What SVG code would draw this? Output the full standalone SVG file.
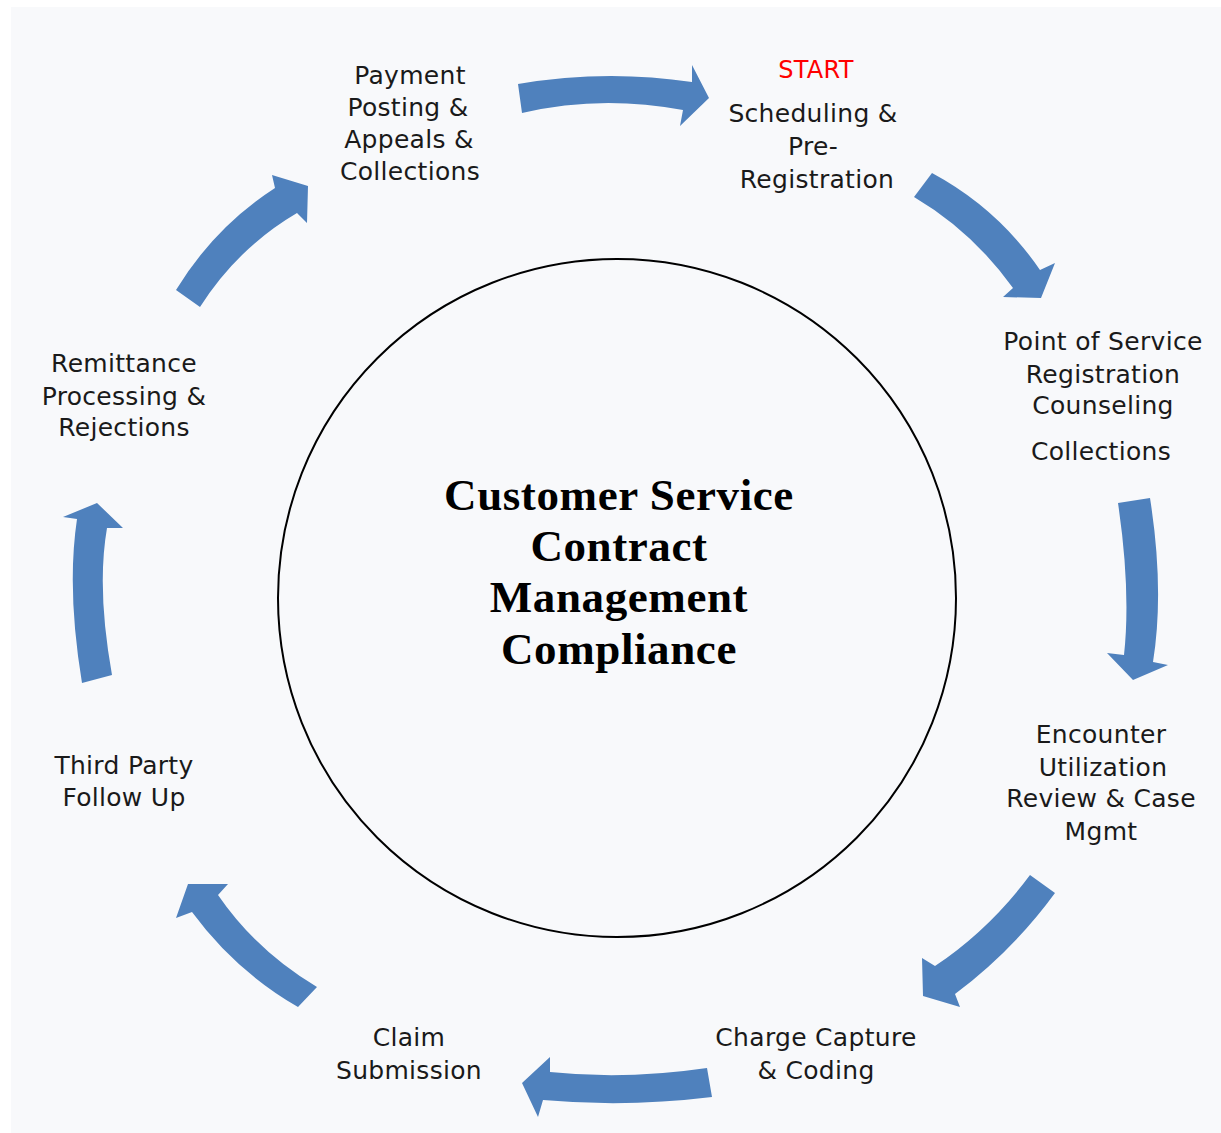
<svg xmlns="http://www.w3.org/2000/svg" width="1221" height="1133" viewBox="0 0 1221 1133">
  <style>
    .lbl { font-family: "DejaVu Sans", "Liberation Sans", sans-serif; font-size: 25px; letter-spacing: 0.3px; fill: #1a1a1a; text-anchor: middle; }
    .start { fill: #ff0000; font-size: 24px; }
    .title { font-family: "Liberation Serif", "Times New Roman", serif; font-size: 45px; letter-spacing: 0.6px; font-weight: bold; fill: #000; text-anchor: middle; }
    .arrow { fill: #4f81bd; }
  </style>
  <rect x="0" y="0" width="1221" height="1133" fill="#ffffff"/>
  <rect x="11" y="7" width="1210" height="1126" fill="#f8f9fb"/>

  <!-- central hub -->
  <g id="hub">
    <circle cx="617" cy="598" r="339" fill="none" stroke="#000" stroke-width="2"/>
    <text class="title" x="619" y="510">Customer Service</text>
    <text class="title" x="619" y="561">Contract</text>
    <text class="title" x="619" y="612">Management</text>
    <text class="title" x="619" y="664">Compliance</text>
  </g>

  <!-- cycle steps -->
  <g id="scheduling">
    <text class="lbl start" x="816" y="78">START</text>
    <text class="lbl" x="813" y="122">Scheduling &amp;</text>
    <text class="lbl" x="813" y="155">Pre-</text>
    <text class="lbl" x="817" y="188">Registration</text>
  </g>
  <g id="point-of-service">
    <text class="lbl" x="1103" y="350">Point of Service</text>
    <text class="lbl" x="1103" y="383">Registration</text>
    <text class="lbl" x="1103" y="414">Counseling</text>
    <text class="lbl" x="1101" y="460">Collections</text>
  </g>
  <g id="encounter">
    <text class="lbl" x="1101" y="743">Encounter</text>
    <text class="lbl" x="1103" y="776">Utilization</text>
    <text class="lbl" x="1101" y="807">Review &amp; Case</text>
    <text class="lbl" x="1101" y="840">Mgmt</text>
  </g>
  <g id="charge-capture">
    <text class="lbl" x="816" y="1046">Charge Capture</text>
    <text class="lbl" x="816" y="1079">&amp; Coding</text>
  </g>
  <g id="claim-submission">
    <text class="lbl" x="409" y="1046">Claim</text>
    <text class="lbl" x="409" y="1079">Submission</text>
  </g>
  <g id="third-party">
    <text class="lbl" x="124" y="774">Third Party</text>
    <text class="lbl" x="124" y="806">Follow Up</text>
  </g>
  <g id="remittance">
    <text class="lbl" x="124" y="372">Remittance</text>
    <text class="lbl" x="124" y="405">Processing &amp;</text>
    <text class="lbl" x="124" y="436">Rejections</text>
  </g>
  <g id="payment">
    <text class="lbl" x="410" y="84">Payment</text>
    <text class="lbl" x="408" y="116">Posting &amp;</text>
    <text class="lbl" x="409" y="148">Appeals &amp;</text>
    <text class="lbl" x="410" y="180">Collections</text>
  </g>

  <!-- curved block arrows around the cycle -->
  <g id="connectors" class="arrow">
    <path d="M518,84 Q605,69 692,82 L692,65 L709,98 L680,126 L683,110 Q600,94.5 522,113 Z"/>
    <path d="M932,173 Q998,208.5 1040,270 L1055,263 L1041,298 L1003,297 L1013,288 Q972.5,231.5 914,197 Z"/>
    <path d="M1150,498 Q1164.5,590 1153,662 L1168,665 L1133,680 L1107,653 L1124,655 Q1131,591 1118,503 Z"/>
    <path d="M1055,893 Q1013,950.5 955,994 L960,1007 L923,996 L922,958 L935,966 Q989.5,929.5 1030,875 Z"/>
    <path d="M712,1097 Q626.5,1107.5 543,1100 L538,1117 L522,1083 L550,1057 L550,1072 Q625.5,1080 707,1068 Z"/>
    <path d="M298,1007 Q235,970.5 192,912 L176,918 L188,884 L228,884 L218,895 Q256.5,951 317,987 Z"/>
    <path d="M82,683 Q66.5,589 77,519 L63,517 L97,503 L123,528 L107,528 Q96.5,588.5 112,675 Z"/>
    <path d="M176,290 Q214.5,227 275,188 L272,175 L308,186 L307,223 L297,213 Q237.5,248 200,307 Z"/>
  </g>
</svg>
